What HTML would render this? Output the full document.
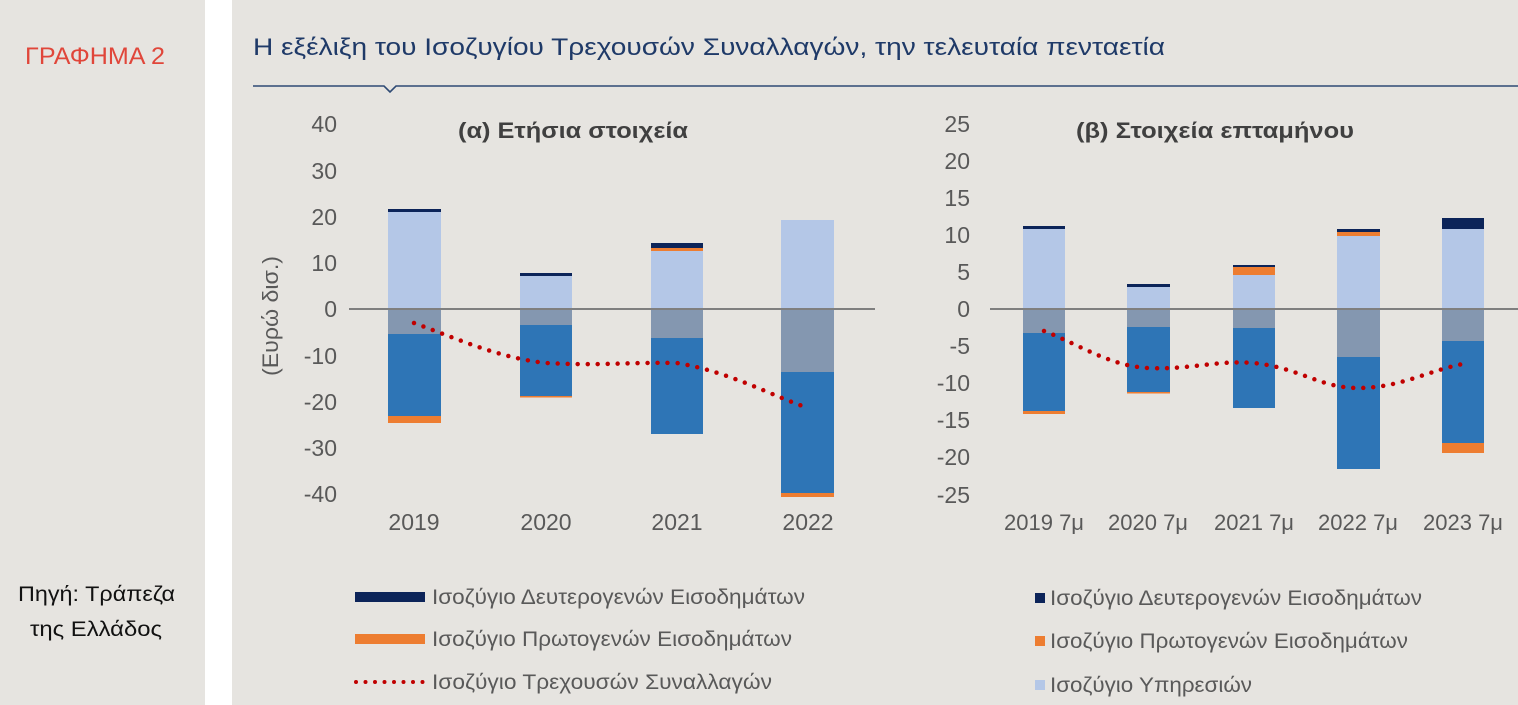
<!DOCTYPE html>
<html><head><meta charset="utf-8"><style>
html,body{margin:0;padding:0;background:#fff;}
svg{display:block;font-family:"Liberation Sans",Arial,sans-serif;}
</style></head><body>
<svg width="1518" height="705" viewBox="0 0 1518 705" xmlns="http://www.w3.org/2000/svg">
<rect x="0" y="0" width="205" height="705" fill="#e6e4e0"/>
<rect x="232" y="0" width="1286" height="705" fill="#e6e4e0"/>
<text x="25" y="64" font-size="24" fill="#e0463a" textLength="140" lengthAdjust="spacingAndGlyphs">ΓΡΑΦΗΜΑ 2</text>
<text x="253" y="55" font-size="24" fill="#1f3a68" textLength="912" lengthAdjust="spacingAndGlyphs">Η εξέλιξη του Ισοζυγίου Τρεχουσών Συναλλαγών, την τελευταία πενταετία</text>
<path d="M253 86 H384 L390 92 L396 86 H1518" stroke="#2e4a74" stroke-width="1.6" fill="none"/>
<text x="18" y="601" font-size="21" fill="#111" textLength="157" lengthAdjust="spacingAndGlyphs">Πηγή: Τράπεζα</text>
<text x="30" y="636" font-size="21" fill="#111" textLength="132" lengthAdjust="spacingAndGlyphs">της Ελλάδος</text>

<!-- Left chart -->
<g font-size="23" fill="#595959" text-anchor="end">
<text x="337" y="132">40</text><text x="337" y="179">30</text><text x="337" y="225">20</text>
<text x="337" y="271">10</text><text x="337" y="317">0</text><text x="337" y="364">-10</text>
<text x="337" y="410">-20</text><text x="337" y="456">-30</text><text x="337" y="502">-40</text>
</g>
<text transform="translate(278,316) rotate(-90)" font-size="22" fill="#595959" text-anchor="middle" textLength="120" lengthAdjust="spacingAndGlyphs">(Ευρώ δισ.)</text>
<text x="458" y="138" font-size="22" font-weight="bold" fill="#404040" textLength="230" lengthAdjust="spacingAndGlyphs">(α) Ετήσια στοιχεία</text>
<g>
<rect x="388" y="209" width="53" height="3" fill="#0c2459"/>
<rect x="388" y="212" width="53" height="97" fill="#b4c7e7"/>
<rect x="388" y="309" width="53" height="25" fill="#8497b0"/>
<rect x="388" y="334" width="53" height="82" fill="#2e75b6"/>
<rect x="388" y="416" width="53" height="7" fill="#ed7d31"/>

<rect x="520" y="273" width="52" height="3" fill="#0c2459"/>
<rect x="520" y="276" width="52" height="33" fill="#b4c7e7"/>
<rect x="520" y="309" width="52" height="16" fill="#8497b0"/>
<rect x="520" y="325" width="52" height="71" fill="#2e75b6"/>
<rect x="520" y="396" width="52" height="1.5" fill="#ed7d31"/>

<rect x="651" y="243" width="52" height="5" fill="#0c2459"/>
<rect x="651" y="248" width="52" height="3" fill="#ed7d31"/>
<rect x="651" y="251" width="52" height="58" fill="#b4c7e7"/>
<rect x="651" y="309" width="52" height="29" fill="#8497b0"/>
<rect x="651" y="338" width="52" height="96" fill="#2e75b6"/>

<rect x="781" y="220" width="53" height="89" fill="#b4c7e7"/>
<rect x="781" y="309" width="53" height="63" fill="#8497b0"/>
<rect x="781" y="372" width="53" height="121" fill="#2e75b6"/>
<rect x="781" y="493" width="53" height="4" fill="#ed7d31"/>
</g>
<line x1="349" y1="309" x2="875" y2="309" stroke="#7f7f7f" stroke-width="2"/>
<path d="M414 323 C460 340,500 358,546 363 C600 366,630 362,677 363 C730 372,770 395,808 408" stroke="#c00000" stroke-width="4.5" fill="none" stroke-linecap="round" stroke-dasharray="0 10"/>
<g font-size="23" fill="#595959" text-anchor="middle">
<text x="414" y="530">2019</text><text x="546" y="530">2020</text><text x="677" y="530">2021</text><text x="808" y="530">2022</text>
</g>

<!-- Right chart -->
<g font-size="23" fill="#595959" text-anchor="end">
<text x="970" y="132">25</text><text x="970" y="169">20</text><text x="970" y="206">15</text>
<text x="970" y="243">10</text><text x="970" y="280">5</text><text x="970" y="317">0</text>
<text x="970" y="354">-5</text><text x="970" y="391">-10</text><text x="970" y="428">-15</text>
<text x="970" y="465">-20</text><text x="970" y="503">-25</text>
</g>
<text x="1076" y="138" font-size="22" font-weight="bold" fill="#404040" textLength="278" lengthAdjust="spacingAndGlyphs">(β) Στοιχεία επταμήνου</text>
<g>
<rect x="1023" y="226" width="42" height="3" fill="#0c2459"/>
<rect x="1023" y="229" width="42" height="80" fill="#b4c7e7"/>
<rect x="1023" y="309" width="42" height="24" fill="#8497b0"/>
<rect x="1023" y="333" width="42" height="78" fill="#2e75b6"/>
<rect x="1023" y="411" width="42" height="3" fill="#ed7d31"/>

<rect x="1127" y="284" width="43" height="3" fill="#0c2459"/>
<rect x="1127" y="287" width="43" height="22" fill="#b4c7e7"/>
<rect x="1127" y="309" width="43" height="18" fill="#8497b0"/>
<rect x="1127" y="327" width="43" height="65" fill="#2e75b6"/>
<rect x="1127" y="392" width="43" height="1.5" fill="#ed7d31"/>

<rect x="1233" y="265" width="42" height="2" fill="#0c2459"/>
<rect x="1233" y="267" width="42" height="8" fill="#ed7d31"/>
<rect x="1233" y="275" width="42" height="34" fill="#b4c7e7"/>
<rect x="1233" y="309" width="42" height="19" fill="#8497b0"/>
<rect x="1233" y="328" width="42" height="80" fill="#2e75b6"/>

<rect x="1337" y="229" width="43" height="3" fill="#0c2459"/>
<rect x="1337" y="232" width="43" height="4" fill="#ed7d31"/>
<rect x="1337" y="236" width="43" height="73" fill="#b4c7e7"/>
<rect x="1337" y="309" width="43" height="48" fill="#8497b0"/>
<rect x="1337" y="357" width="43" height="112" fill="#2e75b6"/>

<rect x="1442" y="218" width="42" height="11" fill="#0c2459"/>
<rect x="1442" y="229" width="42" height="80" fill="#b4c7e7"/>
<rect x="1442" y="309" width="42" height="32" fill="#8497b0"/>
<rect x="1442" y="341" width="42" height="102" fill="#2e75b6"/>
<rect x="1442" y="443" width="42" height="10" fill="#ed7d31"/>
</g>
<line x1="990" y1="309" x2="1518" y2="309" stroke="#7f7f7f" stroke-width="2"/>
<path d="M1044 331 C1080 345,1110 366,1148 368 C1190 370,1215 360,1254 363 C1300 368,1320 388,1358 388 C1400 388,1430 370,1463 364" stroke="#c00000" stroke-width="4.5" fill="none" stroke-linecap="round" stroke-dasharray="0 10"/>
<g font-size="22" fill="#595959" text-anchor="middle">
<text x="1044" y="530">2019 7μ</text><text x="1148" y="530">2020 7μ</text><text x="1254" y="530">2021 7μ</text><text x="1358" y="530">2022 7μ</text><text x="1463" y="530">2023 7μ</text>
</g>

<!-- Left legend -->
<rect x="355" y="592" width="70" height="10" fill="#0c2459"/>
<rect x="355" y="634" width="70" height="10" fill="#ed7d31"/>
<line x1="356" y1="682" x2="424" y2="682" stroke="#c00000" stroke-width="4" stroke-linecap="round" stroke-dasharray="0 9.5"/>
<g font-size="21" fill="#595959">
<text x="432" y="604" textLength="373" lengthAdjust="spacingAndGlyphs">Ισοζύγιο Δευτερογενών Εισοδημάτων</text>
<text x="432" y="646" textLength="360" lengthAdjust="spacingAndGlyphs">Ισοζύγιο Πρωτογενών Εισοδημάτων</text>
<text x="432" y="689" textLength="340" lengthAdjust="spacingAndGlyphs">Ισοζύγιο Τρεχουσών Συναλλαγών</text>
</g>
<!-- Right legend -->
<rect x="1035" y="593" width="10" height="10" fill="#0c2459"/>
<rect x="1035" y="636" width="10" height="10" fill="#ed7d31"/>
<rect x="1035" y="680" width="10" height="10" fill="#b4c7e7"/>
<g font-size="21" fill="#595959">
<text x="1050" y="605" textLength="372" lengthAdjust="spacingAndGlyphs">Ισοζύγιο Δευτερογενών Εισοδημάτων</text>
<text x="1050" y="648" textLength="358" lengthAdjust="spacingAndGlyphs">Ισοζύγιο Πρωτογενών Εισοδημάτων</text>
<text x="1050" y="692" textLength="202" lengthAdjust="spacingAndGlyphs">Ισοζύγιο Υπηρεσιών</text>
</g>
</svg>
</body></html>
